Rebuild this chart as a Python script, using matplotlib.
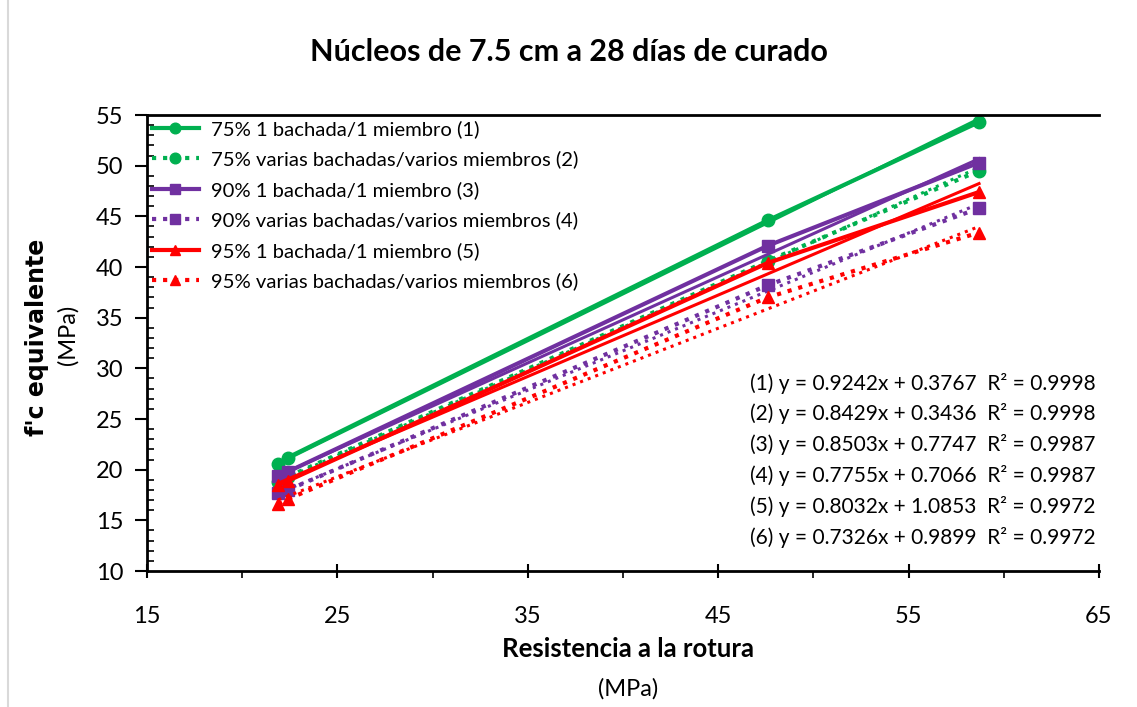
import matplotlib
matplotlib.use("Agg")
import matplotlib.pyplot as plt
import numpy as np
from matplotlib.ticker import MultipleLocator, FixedLocator
from matplotlib.lines import Line2D

plt.rcParams['font.family'] = ['Lato', 'DejaVu Sans']

x_vals = [21.9, 22.4, 47.6, 58.7]
labels = ["75% 1 bachada/1 miembro (1)",
          "75% varias bachadas/varios miembros (2)",
          "90% 1 bachada/1 miembro (3)",
          "90% varias bachadas/varios miembros (4)",
          "95% 1 bachada/1 miembro (5)",
          "95% varias bachadas/varios miembros (6)"]
y1 = [20.6, 21.2, 44.6, 54.3]
y2 = [18.8, 19.3, 40.6, 49.5]
y3 = [19.4, 19.8, 42.1, 50.3]
y4 = [17.7, 18.0, 38.2, 45.8]
y5 = [18.5, 18.9, 40.4, 47.4]
y6 = [16.6, 17.1, 37.0, 43.4]
series_y = [y1, y2, y3, y4, y5, y6]
slopes = [0.9242, 0.8429, 0.8503, 0.7755, 0.8032, 0.7326]
intercepts = [0.3767, 0.3436, 0.7747, 0.7066, 1.0853, 0.9899]
r2 = [0.9998, 0.9998, 0.9987, 0.9987, 0.9972, 0.9972]
x_ticks = [15, 25, 35, 45, 55, 65]

colors = ['#00B050', '#00B050', '#7030A0', '#7030A0', '#FF0000', '#FF0000']
markers = ['o', 'o', 's', 's', '^', '^']
styles = ['-', ':', '-', ':', '-', ':']

W, H = 1137, 707
fig = plt.figure(figsize=(W/100, H/100), dpi=100)
ax = fig.add_axes([147/W, 1-571/H, (1099-147)/W, (571-115)/H])

for i in range(6):
    ax.plot(x_vals, series_y[i], linestyle=styles[i], color=colors[i], lw=3,
            marker=markers[i], ms=9, label=labels[i])
    xt = np.array([min(x_vals), max(x_vals)])
    ax.plot(xt, slopes[i]*xt + intercepts[i], linestyle=styles[i], color=colors[i], lw=2.2)

ax.set_xlim(15, 65)
ax.set_ylim(10, 55)
ax.xaxis.set_major_locator(FixedLocator(x_ticks))
ax.xaxis.set_minor_locator(MultipleLocator(5))
ax.yaxis.set_major_locator(MultipleLocator(5))
ax.yaxis.set_minor_locator(MultipleLocator(1))
ax.tick_params(axis='both', which='major', direction='inout', length=10, width=1.5, labelsize=17, color='black')
ax.tick_params(axis='y', which='major', direction='out', length=9, pad=8)
ax.tick_params(axis='y', which='minor', direction='in', length=5, width=1.2)
ax.tick_params(axis='x', which='minor', direction='out', length=5, width=1.2)
ax.tick_params(axis='x', which='major', pad=20)
for s in ['left', 'bottom', 'top']:
    ax.spines[s].set_linewidth(2)
ax.spines['right'].set_visible(False)

fig.text(0.5, 1-52/H, "Núcleos de 7.5 cm a 28 días de curado", ha='center', va='center',
         fontsize=22, fontweight='bold')
fig.text(37/W, 1-337/H, "f'c equivalente", rotation=90, ha='center', va='center',
         fontsize=17, fontweight='bold', family=['DejaVu Sans'])
fig.text(68/W, 1-335/H, "(MPa)", rotation=90, ha='center', va='center', fontsize=17)
fig.text(628/W, 1-649/H, "Resistencia a la rotura", ha='center', va='center',
         fontsize=18.5, fontweight='bold')
fig.text(628/W, 1-689/H, "(MPa)", ha='center', va='center', fontsize=17)

eq_y0 = 383
for i in range(6):
    txt = f"({i+1}) y = {slopes[i]:.4f}x + {intercepts[i]:.4f}  R² = {r2[i]:.4f}"
    fig.text(750/W, 1-(eq_y0 + i*30.8)/H, txt, ha='left', va='center', fontsize=15)

leg = ax.legend(loc='upper left', bbox_to_anchor=(0.0, 1.0), frameon=False, fontsize=14.6,
                handlelength=2.3, handletextpad=0.6, labelspacing=0.62, borderaxespad=0.0,
                markerscale=0.85, borderpad=0.25)

fig.add_artist(Line2D([8/W, 8/W], [0, 1], transform=fig.transFigure, color='#D9D9D9', lw=1.5))

fig.savefig("out.png", dpi=100)
